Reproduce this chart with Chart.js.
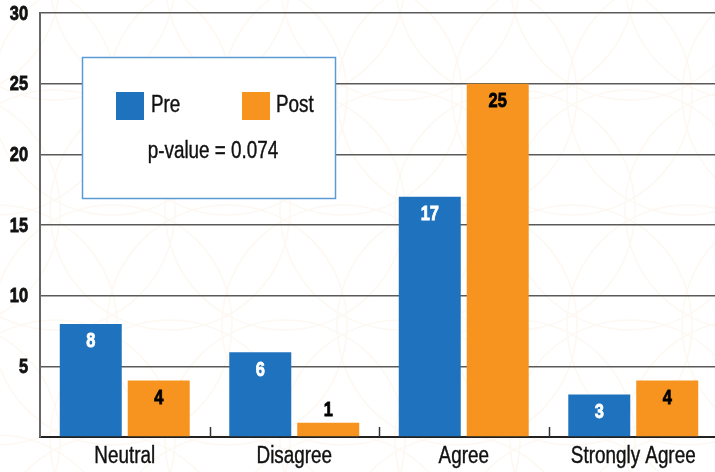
<!DOCTYPE html>
<html>
<head>
<meta charset="utf-8">
<script src="https://cdn.jsdelivr.net/npm/chart.js@4.4.1/dist/chart.umd.min.js"></script>
<style>
  html, body { margin: 0; padding: 0; background: #fff; overflow: hidden; }
  #wrap { width: 718px; height: 472px; }
</style>
</head>
<body>
<div id="wrap"><canvas id="surveyChart"></canvas></div>
<script>
const categories = ['Neutral', 'Disagree', 'Agree', 'Strongly Agree'];
const preValues = [8, 6, 17, 3];
const postValues = [4, 1, 25, 4];
const yTicks = [5, 10, 15, 20, 25, 30];
const pValueText = 'p-value = 0.074';

const FONT = '"Liberation Sans", Arial, sans-serif';
const NARROW = 0.82; // squeeze text to look like a condensed face
const BLUE = '#1f73be';
const ORANGE = '#f6941f';

function narrowText(c, text, x, y, align, heavy) {
    c.save();
    c.translate(x, y);
    c.scale(NARROW, 1);
    c.textAlign = align;
    c.fillText(text, 0, 0);
    if (heavy) {
        c.strokeStyle = c.fillStyle;
        c.lineWidth = heavy;
        c.strokeText(text, 0, 0);
    }
    c.restore();
}

// faint decorative circles behind the plot
const backdrop = {
    id: 'backdrop',
    beforeDraw(chart) {
        const c = chart.ctx;
        c.save();
        c.fillStyle = '#fff';
        c.fillRect(0, 0, chart.width, chart.height);
        c.strokeStyle = '#fdf8f2';
        c.lineWidth = 1.5;
        for (let cx = -60; cx < chart.width + 120; cx += 115) {
            for (let cy = -20; cy < chart.height + 120; cy += 230) {
                c.beginPath();
                c.arc(cx, cy, 120, 0, Math.PI * 2);
                c.stroke();
                c.beginPath();
                c.arc(cx + 57, cy + 115, 120, 0, Math.PI * 2);
                c.stroke();
            }
        }
        c.restore();
    }
};

// tick text, value labels, inward x ticks and the legend box
const overlay = {
    id: 'overlay',
    afterDatasetsDraw(chart) {
        const c = chart.ctx;
        const x = chart.scales.x;
        const y = chart.scales.y;
        const area = chart.chartArea;
        c.save();
        c.textBaseline = 'middle';

        // inward tick marks at category boundaries
        c.strokeStyle = '#333';
        c.lineWidth = 1.5;
        const half = (x.getPixelForValue(1) - x.getPixelForValue(0)) / 2;
        for (let i = 1; i < categories.length; i++) {
            const px = Math.round(x.getPixelForValue(i) - half) + 0.5;
            c.beginPath();
            c.moveTo(px, area.bottom);
            c.lineTo(px, area.bottom - 10);
            c.stroke();
        }

        // axis text
        c.fillStyle = '#111';
        c.font = 'bold 20px ' + FONT;
        yTicks.forEach(v => narrowText(c, String(v), area.left - 12, y.getPixelForValue(v) + 1, 'right', 0.8));
        c.font = '23px ' + FONT;
        categories.forEach((name, i) => narrowText(c, name, x.getPixelForValue(i), area.bottom + 20, 'center', 0.4));

        // value labels
        c.font = 'bold 20px ' + FONT;
        chart.data.datasets.forEach((ds, di) => {
            chart.getDatasetMeta(di).data.forEach((bar, i) => {
                const h = bar.base - bar.y;
                if (h > 30) {
                    c.fillStyle = di === 0 ? '#fff' : '#000';
                    narrowText(c, String(ds.data[i]), bar.x, bar.y + 18, 'center', 0.8);
                } else {
                    c.fillStyle = '#000';
                    narrowText(c, String(ds.data[i]), bar.x, bar.y - 12, 'center', 0.8);
                }
            });
        });

        // legend box
        const bx = 82, by = 57, bw = 253, bh = 141;
        c.fillStyle = '#fff';
        c.fillRect(bx, by, bw, bh);
        c.strokeStyle = '#5b9bd5';
        c.lineWidth = 1.5;
        c.strokeRect(bx + 0.5, by + 0.5, bw, bh);

        c.font = '23px ' + FONT;
        const items = [[116, 151], [242, 276]];
        chart.data.datasets.forEach((ds, di) => {
            c.fillStyle = ds.backgroundColor;
            c.fillRect(items[di][0], 92, 28, 28);
            c.fillStyle = '#111';
            narrowText(c, ds.label, items[di][1], 106, 'left', 0.4);
        });
        narrowText(c, pValueText, 213, 152, 'center', 0.4);
        c.restore();
    }
};

new Chart(document.getElementById('surveyChart'), {
    type: 'bar',
    data: {
        labels: categories,
        datasets: [
            { label: 'Pre', data: preValues, backgroundColor: BLUE },
            { label: 'Post', data: postValues, backgroundColor: ORANGE }
        ]
    },
    options: {
        responsive: true,
        maintainAspectRatio: false,
        animation: false,
        devicePixelRatio: 1,
        layout: { padding: { top: 13, right: 0, left: 0, bottom: 0 } },
        datasets: {
            bar: { categoryPercentage: 0.802, barPercentage: 0.912 }
        },
        plugins: {
            legend: { display: false },
            tooltip: { enabled: false }
        },
        scales: {
            x: {
                grid: { display: false },
                border: { color: '#222', width: 2 },
                ticks: { display: false },
                afterFit(scale) { scale.height = 35; }
            },
            y: {
                min: 0,
                max: 30,
                afterBuildTicks(scale) {
                    scale.ticks = [0].concat(yTicks).map(v => ({ value: v }));
                },
                grid: {
                    color: ctx => ctx.tick && ctx.tick.value === 0 ? 'rgba(0,0,0,0)' : '#5a5a5a',
                    lineWidth: 1.5,
                    drawTicks: false
                },
                border: { color: '#666', width: 2 },
                ticks: { display: false },
                afterFit(scale) { scale.width = 40; }
            }
        }
    },
    plugins: [backdrop, overlay]
});
</script>
</body>
</html>
